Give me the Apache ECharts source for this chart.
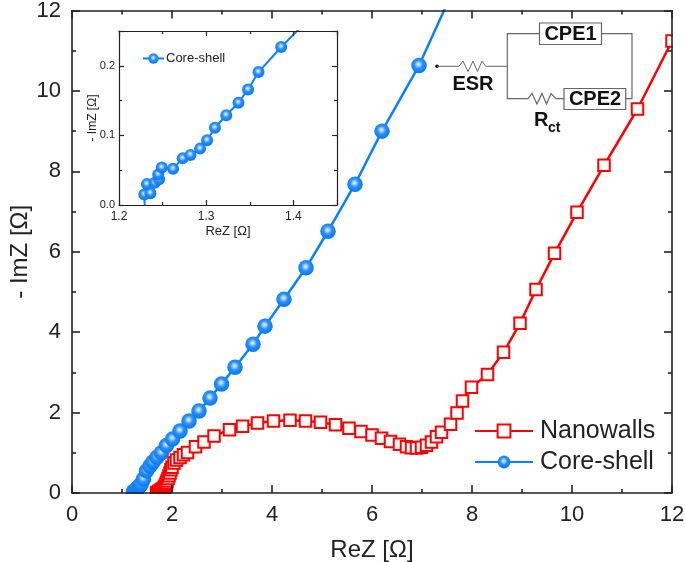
<!DOCTYPE html>
<html><head><meta charset="utf-8">
<style>html,body{margin:0;padding:0;background:#fff}#c{width:685px;height:562px}</style>
<script src="https://cdn.jsdelivr.net/npm/echarts@6/dist/echarts.min.js"></script>
</head><body><div id="c"></div>
<script>
const xTicks = [0, 2, 4, 6, 8, 10, 12];
const yTicks = [0, 2, 4, 6, 8, 10, 12];
const nanowallsX = [1.69,1.71,1.73,1.75,1.77,1.79,1.81,1.83,1.85,1.86,1.87,1.88,1.89,1.90,1.92,1.94,1.96,1.98,2.00,2.04,2.09,2.16,2.23,2.31,2.47,2.64,2.84,3.15,3.41,3.71,4.03,4.36,4.67,4.97,5.27,5.54,5.78,6.00,6.19,6.37,6.55,6.69,6.79,6.89,6.99,7.09,7.19,7.29,7.39,7.57,7.70,7.81,7.99,8.31,8.63,8.96,9.28,9.65,10.10,10.64,11.31,12.00];
const nanowallsY = [0.00,0.015,0.03,0.045,0.06,0.08,0.10,0.12,0.14,0.16,0.19,0.22,0.25,0.30,0.36,0.43,0.50,0.58,0.64,0.745,0.82,0.88,0.95,1.01,1.15,1.27,1.42,1.57,1.66,1.74,1.79,1.81,1.79,1.76,1.70,1.61,1.53,1.44,1.36,1.28,1.21,1.15,1.125,1.12,1.135,1.19,1.27,1.40,1.51,1.71,1.99,2.29,2.63,2.95,3.50,4.22,5.06,5.96,6.98,8.15,9.55,11.24];
const coreLowX = [1.229,1.236,1.232,1.241,1.246,1.245,1.249,1.262,1.273,1.282,1.293,1.301,1.310,1.323,1.337,1.348,1.360,1.386];
const coreLowY = [0.015,0.017,0.030,0.032,0.037,0.044,0.054,0.052,0.067,0.072,0.081,0.093,0.111,0.129,0.147,0.166,0.191,0.227];
const coreHighX = [1.43,1.49,1.56,1.62,1.70,1.79,1.89,2.01,2.16,2.34,2.54,2.76,2.99,3.26,3.62,3.86,4.24,4.68,5.12,5.66,6.20,6.94,7.55];
const coreHighY = [0.35,0.55,0.67,0.77,0.89,1.00,1.18,1.34,1.54,1.79,2.04,2.36,2.71,3.13,3.70,4.15,4.82,5.60,6.51,7.68,9.00,10.63,12.30];
const insetExtraLowX = [1.2295], insetExtraLowY = [-0.002];
const insetExtraHighX = [1.42], insetExtraHighY = [0.27];

const zip = (a, b) => a.map((v, i) => [v, b[i]]);
const FONT = '"Liberation Sans", Arial, sans-serif';
const DARK = '#222', GREY = '#666', RED = '#ff0000', BLUE = '#0a80ff';
const sphere = { type: 'radial', x: 0.47, y: 0.42, r: 0.55, colorStops: [
  { offset: 0, color: '#f4f9ff' }, { offset: 0.2, color: '#a4d0ff' }, { offset: 0.5, color: '#2a90fb' }, { offset: 1, color: '#0a78f5' } ] };

function axis(type, pos, gridIndex, min, max, interval, major, minor, width, labelSize, name, extra) {
  const primary = pos === 'bottom' || pos === 'left';
  return Object.assign({
    type: 'value', position: pos, gridIndex, min, max, interval, z: 10,
    scale: true,
    axisLine: { show: true, onZero: false, lineStyle: { color: DARK, width } },
    axisTick: { show: true, inside: true, length: major, lineStyle: { color: DARK, width } },
    minorTick: { show: true, splitNumber: 2, length: minor, lineStyle: { color: DARK, width } },
    splitLine: { show: false },
    axisLabel: { show: primary, color: '#222', fontFamily: FONT, fontSize: labelSize, margin: 11,
      showMinLabel: true, showMaxLabel: true },
    name: primary ? name : '', nameLocation: 'middle',
    nameTextStyle: { color: '#222', fontFamily: FONT, fontSize: labelSize + 2 }
  }, extra || {});
}
const fix1 = v => v.toFixed(1);

const option = {
  animation: false,
  backgroundColor: '#fff',
  grid: [
    { left: 72, right: 13, top: 10.5, bottom: 69, containLabel: false, outerBoundsMode: 'none' },
    { left: 119, width: 218, top: 31, height: 174, containLabel: false, outerBoundsMode: 'none' }
  ],
  xAxis: [
    axis('x', 'bottom', 0, xTicks[0], xTicks[xTicks.length - 1], 2, 8, 4, 1.6, 22, 'ReZ [Ω]', { nameGap: 45 }),
    axis('x', 'top', 0, 0, 12, 2, 8, 4, 1.6, 22, ''),
    axis('x', 'bottom', 1, 1.2, 1.45, 0.1, 5, 3, 1.2, 12, 'ReZ [Ω]', { nameGap: 20, nameTextStyle: { color: '#222', fontFamily: FONT, fontSize: 13 }, axisLabel: { show: true, color: '#222', fontFamily: FONT, fontSize: 12, margin: 6, formatter: fix1, showMaxLabel: false } }),
    axis('x', 'top', 1, 1.2, 1.45, 0.1, 5, 3, 1.2, 12, '')
  ],
  yAxis: [
    axis('y', 'left', 0, yTicks[0], yTicks[yTicks.length - 1], 2, 8, 4, 1.6, 22, '- ImZ [Ω]', { nameGap: 40, nameMoveOverlap: false }),
    axis('y', 'right', 0, 0, 12, 2, 8, 4, 1.6, 22, ''),
    axis('y', 'left', 1, 0, 0.25, 0.1, 5, 3, 1.2, 12, '- ImZ [Ω]', { nameGap: 20, nameMoveOverlap: false, nameTextStyle: { color: '#222', fontFamily: FONT, fontSize: 12 }, axisLabel: { show: true, color: '#222', fontFamily: FONT, fontSize: 11, margin: 4, formatter: fix1, showMaxLabel: false } }),
    axis('y', 'right', 1, 0, 0.25, 0.1, 5, 3, 1.2, 12, '')
  ],
  legend: [
    { data: ['Nanowalls', 'Core-shell'], orient: 'vertical', left: 469, top: 413.5, itemWidth: 58, itemHeight: 16, itemGap: 6, selectedMode: false,
      textStyle: { color: '#222', fontFamily: FONT, fontSize: 25, padding: [0, 0, 0, 2] } },
    { data: ['Core-shell'], orient: 'vertical', left: 137, top: 47, itemWidth: 21, itemHeight: 13, selectedMode: false,
      textStyle: { color: '#222', fontFamily: FONT, fontSize: 13, padding: [0, 0, 0, -3] } }
  ],
  series: [
    { name: 'Core-shell', type: 'line', xAxisIndex: 0, yAxisIndex: 0, data: zip(coreLowX.concat(coreHighX), coreLowY.concat(coreHighY)),
      symbol: 'circle', symbolSize: 15.5, showSymbol: true, lineStyle: { color: BLUE, width: 2.5 }, itemStyle: { color: sphere, borderWidth: 0 }, z: 2 },
    { name: 'Nanowalls', type: 'line', xAxisIndex: 0, yAxisIndex: 0, data: zip(nanowallsX, nanowallsY),
      symbol: 'rect', symbolSize: 11.5, showSymbol: true, lineStyle: { color: RED, width: 2.5 }, itemStyle: { color: '#fff', borderColor: RED, borderWidth: 2 }, z: 3 },
    { name: 'Core-shell', type: 'line', xAxisIndex: 2, yAxisIndex: 2, data: zip(insetExtraLowX.concat(coreLowX, insetExtraHighX), insetExtraLowY.concat(coreLowY, insetExtraHighY)),
      symbol: 'circle', symbolSize: 12, showSymbol: true, lineStyle: { color: BLUE, width: 2 }, itemStyle: { color: sphere, borderWidth: 0 }, z: 3 }
  ],
  graphic: { elements: [
    { type: 'rect', z: 5, silent: true, shape: { x: 0, y: 494, width: 685, height: 68 }, style: { fill: '#fff' } },
    { type: 'rect', z: 5, silent: true, shape: { x: 673, y: 0, width: 12, height: 562 }, style: { fill: '#fff' } },
    { type: 'circle', z: 6, shape: { cx: 437, cy: 66.3, r: 1.8 }, style: { fill: '#111' } },
    { type: 'polyline', z: 6, shape: { points: [[437,66.3],[459,66.3],[463,61],[468,71.5],[473,61],[477.5,71.5],[482,61],[485.7,66.3],[507.3,66.3]] }, style: { stroke: GREY, fill: null, lineWidth: 1 } },
    { type: 'polyline', z: 6, shape: { points: [[539,33.7],[507.3,33.7],[507.3,98.7],[528,98.7],[532,93.5],[537,104],[542,93.5],[546.5,104],[551,93.5],[556,98.7],[564,98.7]] }, style: { stroke: GREY, fill: null, lineWidth: 1.2 } },
    { type: 'polyline', z: 6, shape: { points: [[601.7,33.7],[632,33.7],[632,98.7],[625.7,98.7]] }, style: { stroke: GREY, fill: null, lineWidth: 1.2 } },
    { type: 'rect', z: 6, shape: { x: 539.5, y: 23, width: 62, height: 21.5 }, style: { fill: '#fff', stroke: GREY, lineWidth: 1.2 } },
    { type: 'rect', z: 6, shape: { x: 564, y: 88.5, width: 61.7, height: 21 }, style: { fill: '#fff', stroke: GREY, lineWidth: 1.2 } },
    { type: 'text', z: 7, x: 570.5, y: 34, style: { text: 'CPE1', fontFamily: FONT, fontWeight: 'bold', fontSize: 20, fill: '#111', align: 'center', verticalAlign: 'middle' } },
    { type: 'text', z: 7, x: 595, y: 99, style: { text: 'CPE2', fontFamily: FONT, fontWeight: 'bold', fontSize: 20, fill: '#111', align: 'center', verticalAlign: 'middle' } },
    { type: 'text', z: 7, x: 473, y: 84, style: { text: 'ESR', fontFamily: FONT, fontWeight: 'bold', fontSize: 20, fill: '#111', align: 'center', verticalAlign: 'middle' } },
    { type: 'text', z: 7, x: 534, y: 120.5, style: { text: 'R', fontFamily: FONT, fontWeight: 'bold', fontSize: 20, fill: '#111', align: 'left', verticalAlign: 'middle' } },
    { type: 'text', z: 7, x: 548, y: 128, style: { text: 'ct', fontFamily: FONT, fontWeight: 'bold', fontSize: 14, fill: '#111', align: 'left', verticalAlign: 'middle' } }
  ] }
};
const chart = echarts.init(document.getElementById('c'), null, { renderer: 'canvas' });
chart.setOption(option);
</script></body></html>
